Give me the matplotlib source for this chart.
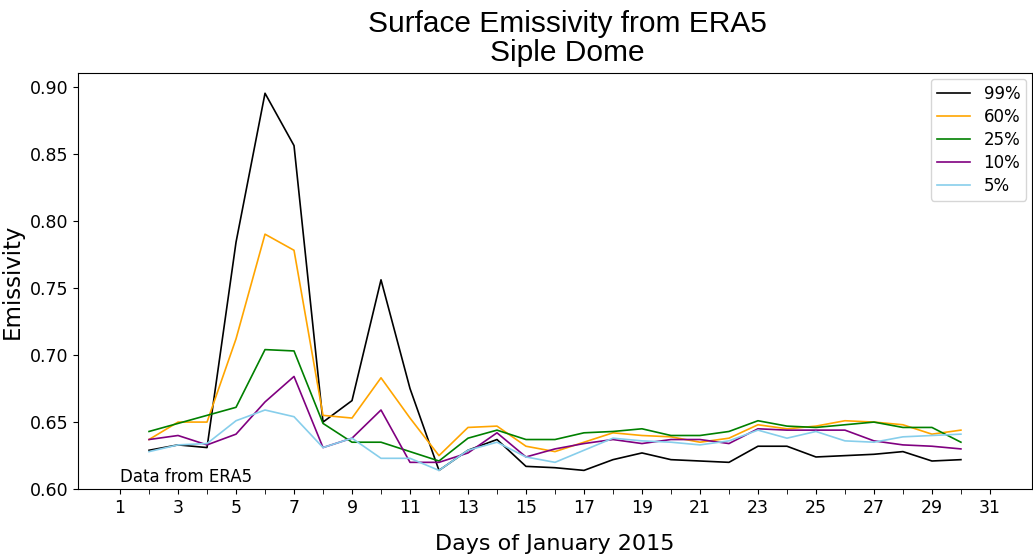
import matplotlib
matplotlib.use("Agg")
import matplotlib.pyplot as plt
import numpy as np

# days of January 2015 with data
days = np.arange(2, 31)

# emissivity percentiles
p99 = [0.629, 0.633, 0.631, 0.784, 0.895, 0.856, 0.650, 0.666, 0.756, 0.675, 0.614,
       0.629, 0.637, 0.617, 0.616, 0.614, 0.622, 0.627, 0.622, 0.621, 0.620,
       0.632, 0.632, 0.624, 0.625, 0.626, 0.628, 0.621, 0.622]
p60 = [0.637, 0.650, 0.650, 0.712, 0.790, 0.778, 0.655, 0.653, 0.683, 0.653, 0.625,
       0.646, 0.647, 0.632, 0.628, 0.635, 0.642, 0.640, 0.639, 0.635, 0.638,
       0.648, 0.645, 0.647, 0.651, 0.650, 0.648, 0.641, 0.644]
p25 = [0.643, 0.649, 0.655, 0.661, 0.704, 0.703, 0.649, 0.635, 0.635, 0.628, 0.621,
       0.638, 0.644, 0.637, 0.637, 0.642, 0.643, 0.645, 0.640, 0.640, 0.643,
       0.651, 0.647, 0.646, 0.648, 0.650, 0.646, 0.646, 0.635]
p10 = [0.637, 0.640, 0.633, 0.641, 0.665, 0.684, 0.631, 0.638, 0.659, 0.620, 0.620,
       0.627, 0.642, 0.624, 0.630, 0.634, 0.637, 0.634, 0.637, 0.637, 0.634,
       0.645, 0.644, 0.644, 0.644, 0.636, 0.633, 0.632, 0.630]
p5 = [0.628, 0.633, 0.634, 0.651, 0.659, 0.654, 0.631, 0.638, 0.623, 0.623, 0.614,
      0.629, 0.635, 0.624, 0.620, 0.629, 0.638, 0.636, 0.635, 0.633, 0.636,
      0.644, 0.638, 0.643, 0.636, 0.635, 0.639, 0.640, 0.641]

labels = ["99%", "60%", "25%", "10%", "5%"]
colors = ["black", "orange", "green", "purple", "skyblue"]

fig = plt.figure(figsize=(10.33, 5.54), dpi=100)
ax = fig.add_axes([0.0755, 0.117, 0.9235, 0.751])

for vals, lab, col in zip([p99, p60, p25, p10, p5], labels, colors):
    ax.plot(days, vals, color=col, label=lab, linewidth=1.2)

ax.set_xlim(-0.45, 32.45)
ax.set_ylim(0.60, 0.91)
ax.set_xticks(np.arange(1, 32, 2))
ax.set_xticks(np.arange(2, 32, 2), minor=True)
ax.tick_params(axis="x", which="minor", length=3.5)
ax.tick_params(labelsize=12.5)

ax.set_title("Surface Emissivity from ERA5\nSiple Dome", fontsize=21.5,
             family="Liberation Sans", linespacing=1.05, x=0.5126, pad=9)
ax.set_xlabel("Days of January 2015", fontsize=16, labelpad=12)
ax.set_ylabel("Emissivity", fontsize=16.5, labelpad=4)
ax.text(1, 0.6055, "Data from ERA5", fontsize=12)
ax.legend(loc="upper right", fontsize=12, labelspacing=0.3,
          borderaxespad=0.35, borderpad=0.35)

fig.savefig("out.png", dpi=100)
